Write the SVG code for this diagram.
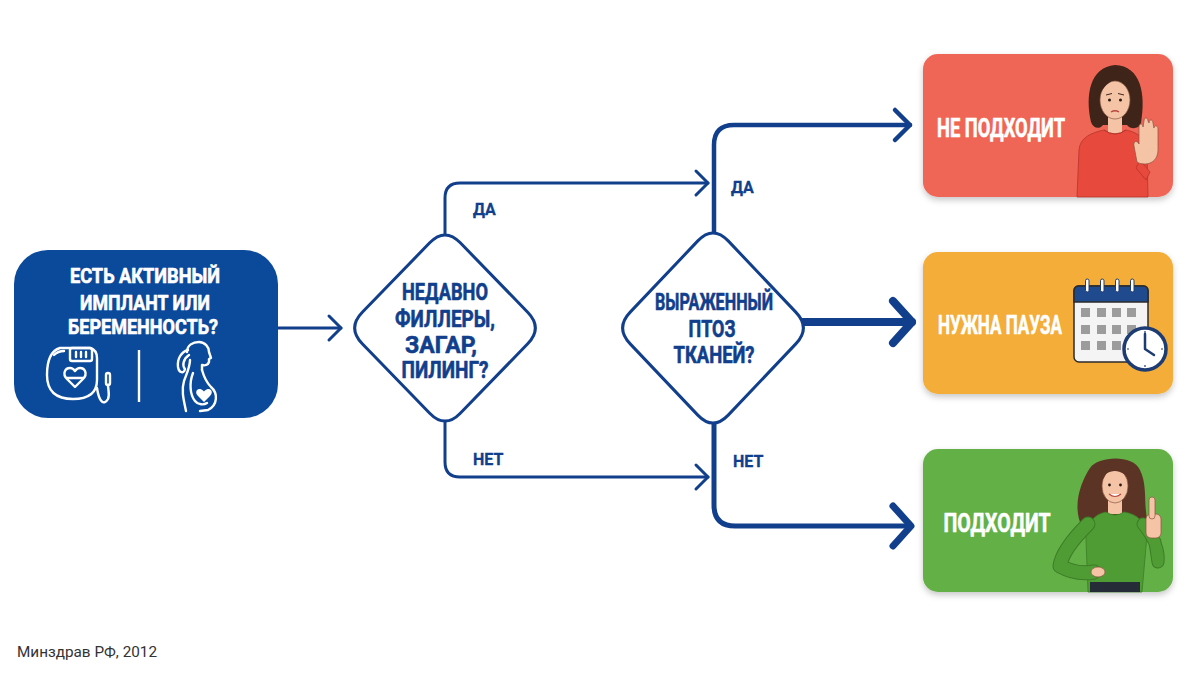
<svg xmlns="http://www.w3.org/2000/svg" width="1200" height="675" viewBox="0 0 1200 675">
<style>
.q{font-family:Roboto,"Liberation Sans",sans-serif;font-weight:700;text-anchor:middle;stroke-width:0.6;stroke-linejoin:round}
.wt{fill:#ffffff;stroke:#ffffff}
.bt{fill:#123f8c;stroke:#123f8c}
.lbl{font-family:Roboto,"Liberation Sans",sans-serif;font-weight:700;font-size:16px;fill:#123f8c;stroke:#123f8c;stroke-width:0.3}
.ln{fill:none;stroke:#123f8c;stroke-linecap:round;stroke-linejoin:round}
.dia{fill:#ffffff;stroke:#123f8c;stroke-width:3}
.ic{fill:none;stroke:#ffffff;stroke-width:2.4;stroke-linecap:round;stroke-linejoin:round}
.skin{fill:#f5c4a6;stroke:#8a5540;stroke-width:0.7}
.foot{font-family:Roboto,"Liberation Sans",sans-serif;font-size:15px;fill:#333333}
</style>
<defs>
<filter id="sh" x="-10%" y="-10%" width="120%" height="130%">
<feDropShadow dx="0" dy="3" stdDeviation="3" flood-color="#000000" flood-opacity="0.22"/>
</filter>
<marker id="aS" markerUnits="userSpaceOnUse" viewBox="0 0 20 30" markerWidth="20" markerHeight="30" refX="16" refY="15" orient="auto" overflow="visible">
<path d="M4,3 L16,15 L4,27" fill="none" stroke="#123f8c" stroke-width="3" stroke-linecap="round" stroke-linejoin="round"/>
</marker>
<marker id="aM" markerUnits="userSpaceOnUse" viewBox="0 0 26 36" markerWidth="26" markerHeight="36" refX="20" refY="18" orient="auto" overflow="visible">
<path d="M5,3 L20,18 L5,33" fill="none" stroke="#123f8c" stroke-width="4.5" stroke-linecap="round" stroke-linejoin="round"/>
</marker>
<marker id="aL" markerUnits="userSpaceOnUse" viewBox="0 0 34 50" markerWidth="34" markerHeight="50" refX="26" refY="25" orient="auto" overflow="visible">
<path d="M7,4 L26,25 L7,46" fill="none" stroke="#123f8c" stroke-width="8" stroke-linecap="round" stroke-linejoin="round"/>
</marker>
<marker id="aL2" markerUnits="userSpaceOnUse" viewBox="0 0 34 50" markerWidth="34" markerHeight="50" refX="26" refY="25" orient="auto" overflow="visible">
<path d="M8,5 L26,25 L8,45" fill="none" stroke="#123f8c" stroke-width="7" stroke-linecap="round" stroke-linejoin="round"/>
</marker>
</defs>
<rect width="1200" height="675" fill="#ffffff"/>

<g id="connectors">
<path class="ln" stroke-width="3" d="M278,328 H341" marker-end="url(#aS)"/>
<path class="ln" stroke-width="3" d="M445,235 V198 Q445,183 460,183 H708" marker-end="url(#aS)"/>
<path class="ln" stroke-width="3" d="M445,421 V462 Q445,477 460,477 H708" marker-end="url(#aS)"/>
<path class="ln" stroke-width="4.5" d="M714,233 V145 Q714,125 734,125 H910" marker-end="url(#aM)"/>
<path class="ln" stroke-width="8" stroke-linecap="butt" d="M803,322 H912" marker-end="url(#aL)"/>
<path class="ln" stroke-width="5" d="M714,423 V505 Q714,526 735,526 H911" marker-end="url(#aL2)"/>
<text class="lbl" x="473" y="215">ДА</text>
<text class="lbl" x="473" y="465">НЕТ</text>
<text class="lbl" x="731" y="193">ДА</text>
<text class="lbl" x="733" y="467">НЕТ</text>
</g>

<g id="start">
<rect x="14" y="250" width="264" height="168" rx="34" fill="#0b4a9b"/>
<text class="q wt" font-size="20" x="145" y="283" textLength="150" lengthAdjust="spacingAndGlyphs">ЕСТЬ АКТИВНЫЙ</text>
<text class="q wt" font-size="20" x="145" y="310" textLength="130" lengthAdjust="spacingAndGlyphs">ИМПЛАНТ ИЛИ</text>
<text class="q wt" font-size="20" x="143" y="334" textLength="150" lengthAdjust="spacingAndGlyphs">БЕРЕМЕННОСТЬ?</text>
<g id="pacemaker-icon">
<path class="ic" d="M60,348 L90,348 Q97,350 97,358 L97,380 Q97,399 73,399 Q47,399 47,375 Q47,352 60,348 Z"/>
<rect class="ic" x="70" y="348" width="22" height="13" rx="2"/>
<path class="ic" stroke-width="1.5" d="M76,352 V357 M81,352 V357 M86,352 V357 M54,355 Q58,351 64,351"/>
<path class="ic" d="M75,387 L67,379 C62,374 65,368 70,368 C73,368 75,371 75,371 C75,371 77,368 80,368 C85,368 88,374 83,379 Z"/>
<path class="ic" stroke-width="1.8" d="M67,378 H83"/>
<path class="ic" d="M97,388 C99,402 104,406 108,399 C110,394 108,390 108,385"/>
<rect class="ic" x="106" y="373" width="4" height="12" rx="2"/>
</g>
<line x1="139" y1="350" x2="139" y2="402" stroke="#ffffff" stroke-width="2.4"/>
<g id="pregnant-icon">
<path class="ic" d="M187,352 C187,345 193,342 199,342 C205,342 209,347 209,352 L211,358 L209,359 L209,362 C208,365 205,366 202,365 L202,370"/>
<path class="ic" d="M188,350 C181,352 177,359 178,367 C179,373 184,374 185,369 C182,366 183,359 189,355"/>
<path class="ic" d="M190,360 C190,367 187,373 184,381 C181,391 184,401 186,411"/>
<path class="ic" d="M202,370 C204,377 207,383 211,387 C218,393 218,405 208,410 L200,411"/>
<path class="ic" d="M193,373 C189,383 190,395 195,401 C198,405 204,405 207,403"/>
<path d="M204,402 L198,396 C195,393 196,389 199.5,389 C202,389 204,391.5 204,391.5 C204,391.5 206,389 208.5,389 C212,389 213,393 210,396 Z" fill="#ffffff"/>
</g>
</g>

<g id="decision1">
<path class="dia" d="M429.7,242.8 Q445,227 460.3,242.8 L527.7,312.2 Q543,328 527.7,343.8 L460.3,413.2 Q445,429 429.7,413.2 L362.3,343.8 Q347,328 362.3,312.2 Z"/>
<text class="q bt" font-size="23" x="445" y="300" textLength="86" lengthAdjust="spacingAndGlyphs">НЕДАВНО</text>
<text class="q bt" font-size="23" x="445" y="327" textLength="100" lengthAdjust="spacingAndGlyphs">ФИЛЛЕРЫ,</text>
<text class="q bt" font-size="23" x="441" y="353" textLength="72" lengthAdjust="spacingAndGlyphs">ЗАГАР,</text>
<text class="q bt" font-size="23" x="445" y="378" textLength="87" lengthAdjust="spacingAndGlyphs">ПИЛИНГ?</text>
</g>

<g id="decision2">
<path class="dia" d="M697.8,240.9 Q713,225 728.2,240.9 L795.8,312.1 Q811,328 795.8,343.9 L728.2,415.1 Q713,431 697.8,415.1 L630.2,343.9 Q615,328 630.2,312.1 Z"/>
<text class="q bt" font-size="23" x="714" y="310" textLength="118" lengthAdjust="spacingAndGlyphs">ВЫРАЖЕННЫЙ</text>
<text class="q bt" font-size="23" x="712" y="337" textLength="47" lengthAdjust="spacingAndGlyphs">ПТОЗ</text>
<text class="q bt" font-size="23" x="714" y="363" textLength="81" lengthAdjust="spacingAndGlyphs">ТКАНЕЙ?</text>
</g>

<g id="result-no">
<rect x="923" y="54" width="250" height="143" rx="15" fill="#ef6656" filter="url(#sh)"/>
<text class="q wt" font-size="26" x="1001" y="137" textLength="128" lengthAdjust="spacingAndGlyphs">НЕ ПОДХОДИТ</text>
<g id="woman-stop">
<path d="M1091,122 C1085,95 1090,67 1115,65 C1141,66 1146,94 1141,123 C1139,129 1131,130 1127,125 L1103,125 C1099,130 1093,128 1091,122 Z" fill="#3e2419"/>
<rect x="1108" y="112" width="14" height="22" fill="#f5c4a6"/>
<path d="M1077,197 L1079,150 C1080,138 1090,133 1104,130 Q1115,138 1126,130 C1140,133 1146,140 1147,150 L1148,197 Z" fill="#e8493d" stroke="#b8342a" stroke-width="0.8"/>
<path d="M1104,130 Q1115,138 1126,130" fill="none" stroke="#b8342a" stroke-width="1"/>
<ellipse class="skin" cx="1115" cy="100" rx="15" ry="19"/>
<path d="M1099,97 C1098,81 1106,72 1115,71 C1125,72 1133,81 1132,97 C1129,86 1122,80 1116,79 C1110,81 1102,87 1099,97 Z" fill="#3e2419"/>
<circle cx="1109.5" cy="100" r="1.5" fill="#2a1a12"/>
<circle cx="1120.5" cy="100" r="1.5" fill="#2a1a12"/>
<path d="M1106,95 L1112,93.5 M1118,93.5 L1124,95" stroke="#3e2419" stroke-width="1" fill="none"/>
<path d="M1111,112 Q1115,109.5 1119,112" stroke="#b8463f" stroke-width="1.3" fill="none"/>
<path d="M1140,160 L1150,172 L1146,180 L1136,168 Z" fill="#e8493d" stroke="#b8342a" stroke-width="0.8"/>
<path class="skin" d="M1137,162 L1134,146 C1133,141 1137,140 1139,144 L1139,127 C1139,123 1143,123 1143,127 L1144,121 C1144,117 1148,117 1148,121 L1149,123 C1149,119 1153,119 1153,123 L1154,128 C1154,125 1158,125 1158,129 L1158,150 C1158,159 1152,164 1145,164 C1141,164 1138,163 1137,162 Z"/>
</g>
</g>

<g id="result-pause">
<rect x="923" y="252" width="250" height="142" rx="15" fill="#f3ad37" filter="url(#sh)"/>
<text class="q wt" font-size="26" x="1000" y="334" textLength="124" lengthAdjust="spacingAndGlyphs">НУЖНА ПАУЗА</text>
<g id="calendar">
<rect x="1074" y="286" width="74" height="76" rx="5" fill="#f4f4f4" stroke="#2b2b2b" stroke-width="1.5"/>
<path d="M1074,302 V291 Q1074,286 1079,286 H1143 Q1148,286 1148,291 V302 Z" fill="#1f4b8e" stroke="#2b2b2b" stroke-width="1.5"/>
<g fill="#ffffff" stroke="#1f3a6e" stroke-width="1">
<rect x="1085.5" y="279" width="3.5" height="13" rx="1.75"/>
<rect x="1100.5" y="279" width="3.5" height="13" rx="1.75"/>
<rect x="1115.5" y="279" width="3.5" height="13" rx="1.75"/>
<rect x="1130.5" y="279" width="3.5" height="13" rx="1.75"/>
</g>
<g fill="#9c9c9c">
<rect x="1081" y="308" width="9" height="9"/><rect x="1097" y="308" width="9" height="9"/><rect x="1112" y="308" width="9" height="9"/><rect x="1127" y="308" width="9" height="9"/>
<rect x="1081" y="325" width="9" height="9"/><rect x="1097" y="325" width="9" height="9"/><rect x="1112" y="325" width="9" height="9"/><rect x="1127" y="325" width="9" height="9"/>
<rect x="1081" y="341" width="9" height="9"/><rect x="1097" y="341" width="9" height="9"/><rect x="1112" y="341" width="9" height="9"/>
</g>
<circle cx="1145" cy="349" r="21" fill="#ffffff" stroke="#1d3c73" stroke-width="3.5"/>
<path d="M1145,349 V334 M1145,349 L1154,355" stroke="#1d3c73" stroke-width="2.5" stroke-linecap="round" fill="none"/>
<path d="M1145,331 V333 M1145,365 V367 M1127,349 H1129 M1161,349 H1163" stroke="#1d3c73" stroke-width="1.2"/>
</g>
</g>

<g id="result-yes">
<rect x="923" y="449" width="250" height="143" rx="15" fill="#63b046" filter="url(#sh)"/>
<text class="q wt" font-size="26" x="997" y="532" textLength="107" lengthAdjust="spacingAndGlyphs">ПОДХОДИТ</text>
<g id="woman-ok">
<path d="M1080,522 C1073,502 1082,480 1090,468 C1098,456 1133,454 1140,470 C1148,486 1143,506 1148,522 C1139,527 1132,522 1128,516 L1100,516 C1095,523 1087,526 1080,522 Z" fill="#5b3426"/>
<rect x="1108" y="496" width="14" height="18" fill="#f5c4a6"/>
<path d="M1088,592 L1086,540 C1085,525 1094,514 1106,512 Q1115,518 1124,512 C1137,514 1146,522 1147,535 L1142,592 Z" fill="#4f9b34" stroke="#3c7d27" stroke-width="0.8"/>
<path d="M1088,524 Q1062,550 1060,566 Q1076,575 1094,572" fill="none" stroke="#3c7d27" stroke-width="15" stroke-linecap="round" stroke-linejoin="round"/>
<path d="M1088,524 Q1062,550 1060,566 Q1076,575 1094,572" fill="none" stroke="#4f9b34" stroke-width="13" stroke-linecap="round" stroke-linejoin="round"/>
<path d="M1143,524 Q1160,545 1158,562 L1155,542" fill="none" stroke="#3c7d27" stroke-width="13" stroke-linecap="round" stroke-linejoin="round"/>
<path d="M1143,524 Q1160,545 1158,562 L1155,542" fill="none" stroke="#4f9b34" stroke-width="11" stroke-linecap="round" stroke-linejoin="round"/>
<ellipse class="skin" cx="1098" cy="572" rx="7" ry="5"/>
<rect class="skin" x="1146" y="514" width="15" height="24" rx="5"/>
<rect class="skin" x="1149" y="497" width="6" height="22" rx="3"/>
<rect x="1090" y="582" width="50" height="10" fill="#262b38"/>
<ellipse class="skin" cx="1115" cy="486" rx="13" ry="17"/>
<path d="M1101,484 C1100,468 1108,461 1117,461 C1127,462 1131,470 1130,480 C1124,472 1115,468 1106,474 C1104,477 1102,480 1101,484 Z" fill="#5b3426"/>
<circle cx="1109.5" cy="485" r="1.4" fill="#2a1a12"/>
<circle cx="1120.5" cy="485" r="1.4" fill="#2a1a12"/>
<path d="M1109,494 Q1115,499 1121,494" fill="#ffffff" stroke="#b8463f" stroke-width="1.2"/>
</g>
</g>

<text class="foot" x="17" y="657" textLength="140" lengthAdjust="spacingAndGlyphs">Минздрав РФ, 2012</text>
</svg>
